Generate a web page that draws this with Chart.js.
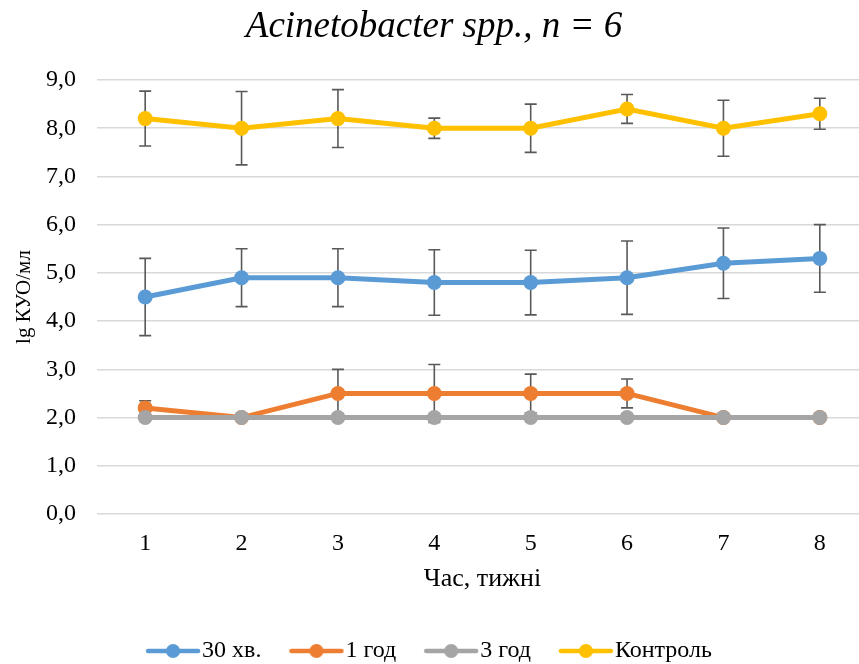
<!DOCTYPE html>
<html>
<head>
<meta charset="utf-8">
<script src="https://cdn.jsdelivr.net/npm/chart.js@4.4.1/dist/chart.umd.min.js"></script>
<style>
  html, body { margin: 0; padding: 0; background: #fff; overflow: hidden; }
  #wrap { width: 880px; height: 680px; }
</style>
</head>
<body>
<div id="wrap"><canvas id="chart" width="880" height="680"></canvas></div>
<script>
// dane
const weeks = ['1', '2', '3', '4', '5', '6', '7', '8'];
const seriesNames = ['30 хв.', '1 год', '3 год', 'Контроль'];
const min30 = [4.5, 4.9, 4.9, 4.8, 4.8, 4.9, 5.2, 5.3];
const min30Err = [0.8, 0.6, 0.6, 0.68, 0.67, 0.76, 0.73, 0.7];
const hour1 = [2.2, 2.0, 2.5, 2.5, 2.5, 2.5, 2.0, 2.0];
const hour1Err = [0.15, 0, 0.5, 0.6, 0.4, 0.3, 0, 0];
const hour3 = [2.0, 2.0, 2.0, 2.0, 2.0, 2.0, 2.0, 2.0];
const hour3Err = [0, 0, 0, 0, 0, 0, 0, 0];
const control = [8.2, 8.0, 8.2, 8.0, 8.0, 8.4, 8.0, 8.3];
const controlErr = [0.57, 0.76, 0.6, 0.21, 0.5, 0.3, 0.58, 0.32];
const yTicks = [0, 1, 2, 3, 4, 5, 6, 7, 8, 9];

const colors = ['#5b9bd5', '#ed7d31', '#a5a5a5', '#ffc000'];
const serif = "'Liberation Serif', 'Times New Roman', serif";

// legend marker: line with a dot
function legendMarker(color) {
    const c = document.createElement('canvas');
    c.width = 56; c.height = 16;
    const g = c.getContext('2d');
    g.strokeStyle = color;
    g.lineWidth = 4.5;
    g.lineCap = 'round';
    g.beginPath(); g.moveTo(3, 8); g.lineTo(53, 8); g.stroke();
    g.fillStyle = color;
    g.beginPath(); g.arc(28, 8, 7, 0, Math.PI * 2); g.fill();
    return c;
}

// error bars plugin
const errorBars = {
    id: 'errorBars',
    beforeDatasetsDraw(chart) {
        const ctx = chart.ctx;
        const y = chart.scales.y;
        ctx.save();
        ctx.strokeStyle = '#595959';
        ctx.lineWidth = 1.6;
        chart.data.datasets.forEach((ds, i) => {
            const meta = chart.getDatasetMeta(i);
            meta.data.forEach((pt, j) => {
                const e = ds.errors[j];
                if (!e) return;
                const top = y.getPixelForValue(ds.data[j] + e);
                const bot = y.getPixelForValue(ds.data[j] - e);
                ctx.beginPath();
                ctx.moveTo(pt.x, top); ctx.lineTo(pt.x, bot);
                ctx.moveTo(pt.x - 6, top); ctx.lineTo(pt.x + 6, top);
                ctx.moveTo(pt.x - 6, bot); ctx.lineTo(pt.x + 6, bot);
                ctx.stroke();
            });
        });
        ctx.restore();
    }
};

function makeSet(idx, values, errs, order) {
    return {
        label: seriesNames[idx],
        data: values,
        errors: errs,
        borderColor: colors[idx],
        backgroundColor: colors[idx],
        borderWidth: 5,
        pointRadius: 7.5,
        pointHoverRadius: 7.5,
        pointBorderWidth: 0,
        pointStyle: 'circle',
        tension: 0,
        order: order
    };
}

new Chart(document.getElementById('chart'), {
    type: 'line',
    data: {
        labels: weeks,
        datasets: [
            makeSet(0, min30, min30Err, 4),
            makeSet(1, hour1, hour1Err, 3),
            makeSet(2, hour3, hour3Err, 2),
            makeSet(3, control, controlErr, 1)
        ]
    },
    options: {
        responsive: false,
        animation: false,
        layout: { padding: { left: 0, right: 12, top: 0, bottom: 7 } },
        plugins: {
            title: {
                display: true,
                text: 'Acinetobacter spp., n = 6',
                color: '#000',
                font: { family: serif, size: 37, style: 'italic', weight: 'normal' },
                padding: { top: 5, bottom: 30.6 }
            },
            legend: {
                position: 'bottom',
                labels: {
                    usePointStyle: true,
                    pointStyleWidth: 34,
                    color: '#000',
                    font: { family: serif, size: 24 },
                    padding: 38,
                    sort: (a, b) => a.datasetIndex - b.datasetIndex,
                    generateLabels(chart) {
                        return chart.data.datasets.map((ds, i) => ({
                            text: ds.label,
                            datasetIndex: i,
                            pointStyle: legendMarker(colors[i]),
                            fillStyle: colors[i],
                            strokeStyle: colors[i],
                            lineWidth: 0,
                            fontColor: '#000'
                        }));
                    }
                }
            },
            tooltip: { enabled: false }
        },
        scales: {
            x: {
                offset: true,
                afterFit: s => { s.height = 87; },
                grid: { display: false },
                border: { display: false },
                ticks: { color: '#000', font: { family: serif, size: 24 }, padding: 7 },
                title: {
                    display: true,
                    text: 'Час, тижні',
                    color: '#000',
                    font: { family: serif, size: 26 },
                    padding: { top: 0, bottom: 6.4 }
                }
            },
            y: {
                min: 0,
                max: 9,
                afterFit: s => { s.width = 97; },
                afterBuildTicks: s => { s.ticks = yTicks.map(v => ({ value: v })); },
                grid: { color: '#d9d9d9', lineWidth: 1.5, drawTicks: false },
                border: { display: false },
                ticks: {
                    color: '#000',
                    font: { family: serif, size: 24 },
                    padding: 21,
                    callback: v => v.toFixed(1).replace('.', ',')
                },
                title: {
                    display: true,
                    text: 'lg КУО/мл',
                    color: '#000',
                    font: { family: serif, size: 21 },
                    padding: { top: 11.4, bottom: 0 }
                }
            }
        }
    },
    plugins: [errorBars]
});
</script>
</body>
</html>
